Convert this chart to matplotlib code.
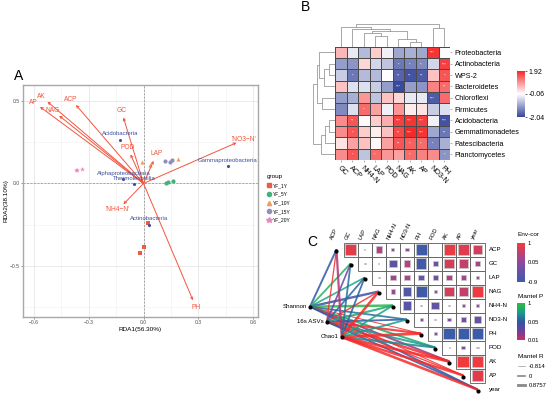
import numpy as np
import matplotlib.pyplot as plt
from matplotlib.colors import LinearSegmentedColormap, Normalize
from matplotlib.patches import Rectangle
from matplotlib.lines import Line2D
from matplotlib.cm import ScalarMappable

plt.rcParams['font.family'] = ['Liberation Sans', 'DejaVu Sans']

W, H = 550, 395
fig = plt.figure(figsize=(5.5, 3.95), dpi=100)


def px(x0, y0, x1, y1):
    return [x0 / W, 1 - y1 / H, (x1 - x0) / W, (y1 - y0) / H]


# ---------------- panel A data (RDA)
env_names = ["AP", "AK", "NAG", "ACP", "GC", "POD", "LAP", "'NO3\u2212N'", "'NH4\u2212N'", "PH"]
env_x = [-0.567, -0.526, -0.462, -0.37, -0.11, -0.071, 0.055, 0.509, -0.11, 0.271]
env_y = [0.465, 0.496, 0.411, 0.476, 0.40, 0.176, 0.137, 0.247, -0.126, -0.709]

taxa_names = ["Acidobacteria", "Gammaproteobacteria", "Alphaproteobacteria", "Thermoleophilia", "Actinobacteria"]
taxa_x = [-0.127, 0.463, -0.11, -0.05, 0.03]
taxa_y = [0.265, 0.105, 0.028, -0.003, -0.25]

groups = ["YF_1Y", "YF_5Y", "YF_10Y", "YF_15Y", "YF_20Y"]
site_x = [[0.024, 0.0, -0.017], [0.125, 0.132, 0.16], [-0.007, 0.188, 0.033],
          [0.119, 0.143, 0.154], [-0.366, -0.339, -0.372]]
site_y = [[-0.24, -0.387, -0.424], [0.0, 0.008, 0.016], [0.131, 0.149, 0.11],
          [0.135, 0.131, 0.14], [0.081, 0.089, 0.079]]
group_colors = ["#EE5B44", "#47AE7E", "#F39A5E", "#8F8FBE", "#E68AC0"]
group_markers = ["s", "o", "^", "o", "*"]

# ---------------- panel B data (heatmap)
hm_cols = ["GC", "ACP", "NH4-N", "LAP", "POD", "NAG", "AK", "AP", "NO3-N", "PH"]
hm_rows = ["Proteobacteria", "Actinobacteria", "WPS-2", "Bacteroidetes", "Chloroflexi",
           "Firmicutes", "Acidobacteria", "Gemmatimonadetes", "Patescibacteria", "Planctomycetes"]
hm_vals = np.array([
    [0.6, -0.3, -0.8, 0.4, -0.2, -1.0, -0.9, -1.0, 1.8, -0.1],
    [-1.1, -1.2, 0.3, -0.5, -0.7, -1.5, -1.4, -1.3, -0.5, 1.7],
    [-0.6, -1.5, -0.8, -0.8, -0.05, -1.7, -1.9, -1.8, 0.5, 1.5],
    [0.5, -0.4, -0.4, -0.6, -1.1, -2.0, -1.1, -1.2, 1.1, 1.3],
    [-1.1, -0.9, 0.9, -0.7, 0.5, 0.3, -0.3, -0.3, -1.8, 1.3],
    [-1.3, -0.4, 1.3, 0.8, -0.2, 0.9, 0.1, 0.2, -0.6, -0.4],
    [1.0, 1.5, 0.0, 0.4, 0.7, 1.7, 1.8, 1.7, -0.2, -1.9],
    [1.0, 1.5, 0.4, 0.1, 0.5, 1.6, 1.9, 1.8, -1.0, -1.5],
    [0.2, 0.8, 0.5, 0.0, 0.8, 1.5, 1.4, 1.3, -1.4, -0.9],
    [1.0, 1.5, -0.7, 1.3, 0.9, 0.8, 1.3, 1.1, 1.0, -1.2],
])
hm_stars = [
    ["", "", "", "", "", "", "", "", "***", ""],
    ["", "", "", "", "", "*", "*", "*", "", "***"],
    ["", "*", "", "", "", "**", "**", "**", "", "*"],
    ["", "", "", "", "", "***", "", "", "", "**"],
    ["", "", "", "", "", "", "", "", "***", ""],
    ["", "", "*", "", "", "", "", "", "", ""],
    ["", "**", "", "", "", "***", "***", "***", "", "***"],
    ["", "*", "", "", "", "**", "***", "***", "", "**"],
    ["", "", "", "", "", "**", "*", "*", "*", ""],
    ["", "*", "", "*", "", "", "*", "", "", "*"],
]
# dendrogram merges: (child a, child b, height); leaves 0..9, merges 10..
col_merges = [(6, 7, .2), (5, 10, .35), (3, 4, .5), (2, 12, .6), (13, 11, .72),
              (1, 14, .8), (0, 15, .88), (8, 9, .85), (16, 17, 1.0)]
row_merges = [(1, 2, .3), (10, 3, .5), (0, 11, .72), (4, 5, .6), (12, 13, .85),
              (6, 7, .3), (15, 8, .45), (16, 9, .65), (14, 17, 1.0)]

# ---------------- panel C data (mantel)
c_vars = ["ACP", "GC", "LAP", "NAG", "NH4-N", "NO3-N", "PH", "POD", "AK", "AP", "year"]
# row i holds correlations with c_vars[i+1:]
c_corr = [
    [0.85, 0.01, 0.35, 0.1, 0.1, -0.85, 0.0, 0.9, 0.8, 0.7],
    [0.05, 0.02, -0.5, 0.4, -0.8, -0.25, 0.7, 0.55, 0.3],
    [0.03, 0.25, 0.3, -0.3, -0.25, 0.3, 0.25, 0.12],
    [0.2, -0.6, -0.85, 0.1, 0.7, 0.55, 0.95],
    [-0.55, -0.05, -0.45, 0.05, 0.1, 0.1],
    [-0.1, 0.05, -0.15, -0.2, -0.4],
    [-0.1, -0.95, -0.9, -0.95],
    [0.02, -0.15, 0.05],
    [0.98, 0.95],
    [0.85],
]
div_names = ["Shannon", "16s ASVs", "Chao1"]
mantel_p = [
    [0.05, 0.8, 0.6, 0.045, 0.9, 0.2, 0.005, 0.7, 0.02, 0.008, 0.05],
    [0.005, 0.03, 0.15, 0.006, 0.7, 0.06, 0.003, 0.5, 0.004, 0.007, 0.05],
    [0.015, 0.2, 0.12, 0.002, 0.6, 0.5, 0.001, 0.4, 0.001, 0.003, 0.001],
]
mantel_r = [
    [0.2, 0.1, 0.0, 0.5, 0.6, 0.1, -0.5, 0.2, 0.3, -0.4, 0.1],
    [-0.3, 0.0, 0.1, -0.2, 0.3, 0.1, 0.4, 0.2, 0.5, -0.3, 0.2],
    [0.4, 0.1, 0.1, 0.7, 0.1, 0.1, 0.8, 0.3, 0.8, 0.6, 0.7],
]

# =========================== panel A
red = "#F2553F"
blue_t = "#3E4E9F"
ax = fig.add_axes(px(23, 85, 258, 317))
ax.set_xlim(-0.66, 0.627)
ax.set_ylim(-0.81, 0.597)
ax.set_xticks([-0.6, -0.3, 0.0, 0.3, 0.6])
ax.set_yticks([-0.5, 0.0, 0.5])
ax.set_xticks([-0.45, -0.15, 0.15, 0.45], minor=True)
ax.set_yticks([-0.75, -0.25, 0.25], minor=True)
ax.grid(True, which="major", color="#E6E6E6", lw=0.6)
ax.grid(True, which="minor", color="#F0F0F0", lw=0.4)
ax.set_axisbelow(True)
ax.tick_params(which="major", labelsize=3.6, length=1.5, width=0.4, pad=1, colors="#4D4D4D")
ax.tick_params(which="minor", length=0)
for s in ax.spines.values():
    s.set_color("#A8A8A8")
    s.set_linewidth(1.0)
ax.axhline(0, color="#8C8C8C", lw=0.5, ls=(0, (3, 2)), zorder=1)
ax.axvline(0, color="#8C8C8C", lw=0.5, ls=(0, (3, 2)), zorder=1)
ax.set_xlabel("RDA1(56.30%)", fontsize=4.6, labelpad=1)
ax.set_ylabel("RDA2(38.10%)", fontsize=4.6, labelpad=1)

for g, c, m, xs, ys in zip(groups, group_colors, group_markers, site_x, site_y):
    ax.scatter(xs, ys, s=9 if m != "*" else 14, marker=m, color=c, lw=0, zorder=3)

for name, x, y in zip(env_names, env_x, env_y):
    ax.annotate("", xy=(x, y), xytext=(0, 0),
                arrowprops=dict(arrowstyle="->", color=red, lw=0.7,
                                mutation_scale=4, shrinkA=0, shrinkB=0), zorder=4)
    L = np.hypot(x, y)
    ax.text(x + 0.045 * x / L, y + 0.045 * y / L, name, color=red,
            fontsize=4.8, ha="center", va="center", zorder=5)

for name, x, y in zip(taxa_names, taxa_x, taxa_y):
    ax.scatter([x], [y], s=1.5, color=blue_t, zorder=4)
    ax.text(x, y + 0.035, name, color=blue_t, fontsize=4.3, ha="center",
            va="center", zorder=5)

handles = [Line2D([], [], marker=m, color=c, ls="", markersize=3 if m != "*" else 4)
           for c, m in zip(group_colors, group_markers)]
leg = fig.legend(handles, groups, loc="upper left", bbox_to_anchor=(264 / W, 1 - 172 / H),
                 frameon=False, fontsize=3.5, title="group", title_fontsize=4.6,
                 handlelength=1.0, handletextpad=0.4, labelspacing=0.75, borderpad=0)
leg._legend_box.align = "left"
fig.text(19 / W, 1 - 76 / H, "A", fontsize=10, ha="center", va="center")

# =========================== panel B
cm_b = LinearSegmentedColormap.from_list("b", ["#36469A", "#FFFFFF", "#F42828"])
norm_b = Normalize(-2.04, 1.92)
axh = fig.add_axes(px(335, 46.7, 450, 160))
axh.pcolormesh(np.arange(11), np.arange(11), hm_vals, cmap=cm_b, norm=norm_b,
               edgecolors="#4A4A4A", linewidth=0.5)
axh.set_xlim(0, 10)
axh.set_ylim(10, 0)
for i in range(10):
    for j in range(10):
        if hm_stars[i][j]:
            axh.text(j + 0.5, i + 0.55, hm_stars[i][j], color="white", fontsize=3,
                     ha="center", va="center")
axh.set_xticks(np.arange(10) + 0.5)
axh.set_yticks(np.arange(10) + 0.5)
axh.set_xticklabels(hm_cols, rotation=-45, ha="left", va="top", rotation_mode="anchor",
                    fontsize=5.2)
axh.set_yticklabels(hm_rows, fontsize=5.2)
axh.yaxis.tick_right()
axh.tick_params(length=1.5, width=0.4, pad=2, color="#777777")
for s in axh.spines.values():
    s.set_visible(False)


def dendro(axd, merges, n, orient):
    pos = {i: (i + 0.5, 0.0) for i in range(n)}
    for k, (a, b, h) in enumerate(merges):
        xa, ha = pos[a]
        xb, hb = pos[b]
        if orient == "top":
            axd.plot([xa, xa, xb, xb], [ha, h, h, hb], color="#9A9A9A", lw=0.6)
        else:
            axd.plot([ha, h, h, hb], [xa, xa, xb, xb], color="#9A9A9A", lw=0.6)
        pos[n + k] = ((xa + xb) / 2, h)
    axd.axis("off")


axt = fig.add_axes(px(335, 24, 450, 46.7))
dendro(axt, col_merges, 10, "top")
axt.set_xlim(0, 10)
axt.set_ylim(0, 1.02)
axl = fig.add_axes(px(313, 46.7, 335, 160))
dendro(axl, row_merges, 10, "left")
axl.set_xlim(1.02, 0)
axl.set_ylim(10, 0)

caxb = fig.add_axes(px(517, 71, 525, 117))
cb = fig.colorbar(ScalarMappable(norm=norm_b, cmap=cm_b), cax=caxb)
cb.set_ticks([1.92, -0.06, -2.04])
cb.set_ticklabels(["1.92", "-0.06", "-2.04"])
cb.ax.tick_params(labelsize=5, length=1.5, width=0.4, pad=1)
cb.outline.set_visible(False)
fig.text(305 / W, 1 - 7 / H, "B", fontsize=10, ha="center", va="center")

# =========================== panel C
CX0, CY0, CW, CH = 336.5, 249.5, 14.1, 14.0
axc = fig.add_axes(px(280, 226, 500, 395))
axc.set_xlim((280 - CX0) / CW, (500 - CX0) / CW)
axc.set_ylim((395 - CY0) / CH, (226 - CY0) / CH)
axc.axis("off")

cm_c = LinearSegmentedColormap.from_list("c", [(0, "#3B5CA8"), (0.5, "#8C49A3"), (1, "#F23A3A")])
norm_c = Normalize(-0.9, 1)
n = len(c_vars)
for i in range(n - 1):
    for k, r in enumerate(c_corr[i]):
        j = i + 1 + k
        axc.add_patch(Rectangle((j - 0.5, i - 0.5), 1, 1, fc="white", ec="#5A5A5A", lw=0.6))
        sz = 0.86 * abs(r) ** 0.6
        axc.add_patch(Rectangle((j - sz / 2, i - sz / 2), sz, sz, fc=cm_c(norm_c(r)),
                                ec="#C8C8C8", lw=0.5, zorder=3))
for j, v in enumerate(c_vars):
    axc.text(j - 0.15, -0.65, v, rotation=65, ha="left", va="bottom",
             rotation_mode="anchor", fontsize=4.2)
    axc.text(n - 0.2, j, v, ha="left", va="center", fontsize=4.4)

cm_p = LinearSegmentedColormap.from_list("p", [(0, "#C9305E"), (0.25, "#6C3FA0"), (0.5, "#2F58A5"),
                                               (0.75, "#179E8C"), (1, "#2EBE3C")])


def p_pos(p):
    if p < 0.01:
        return None
    if p < 0.05:
        return 0.5 * (p - 0.01) / 0.04
    return 0.5 + 0.5 * (p - 0.05) / 0.95


def r_lw(r):
    return 0.45 + (r + 0.814) / (0.8757 + 0.814) * 1.6


node_xy = [((310 - CX0) / CW, (306.7 - CY0) / CH),
           ((326.7 - CX0) / CW, (321.7 - CY0) / CH),
           ((341.7 - CX0) / CW, (337 - CY0) / CH)]
for k, (nx, ny) in enumerate(node_xy):
    for i in range(n):
        pp = p_pos(mantel_p[k][i])
        col = "#F52B2B" if pp is None else cm_p(pp)
        axc.plot([nx, i], [ny, i], color=col, lw=r_lw(mantel_r[k][i]), alpha=0.85,
                 solid_capstyle="butt", zorder=4)
for i in range(n):
    axc.scatter([i], [i + 0.08], s=4, color="black", zorder=6)
for name, (nx, ny) in zip(div_names, node_xy):
    axc.scatter([nx], [ny], s=4, color="black", zorder=6)
    axc.text(nx - 0.2, ny, name, ha="right", va="center", fontsize=4.4, zorder=6)
fig.text(312 / W, 1 - 242 / H, "C", fontsize=10, ha="center", va="center")

# legends of C
caxc = fig.add_axes(px(517, 243, 525, 282))
cb2 = fig.colorbar(ScalarMappable(norm=norm_c, cmap=cm_c), cax=caxc)
cb2.set_ticks([1, 0.05, -0.9])
cb2.set_ticklabels(["1", "0.05", "-0.9"])
cb2.ax.tick_params(labelsize=4.2, length=0, pad=2)
cb2.outline.set_visible(False)
fig.text(518 / W, 1 - 235 / H, "Env-cor", fontsize=4.6, ha="left", va="center")

caxp = fig.add_axes(px(517, 303, 525, 340))
cb3 = fig.colorbar(ScalarMappable(norm=Normalize(0, 1), cmap=cm_p), cax=caxp)
cb3.set_ticks([1, 0.5, 0])
cb3.set_ticklabels(["1", "0.05", "0.01"])
cb3.ax.tick_params(labelsize=4.2, length=0, pad=2)
cb3.outline.set_visible(False)
fig.text(518 / W, 1 - 297 / H, "Mantel P", fontsize=4.6, ha="left", va="center")

r_handles = [Line2D([], [], color="#8A8A8A", lw=r_lw(v)) for v in [-0.814, 0, 0.8757]]
leg2 = fig.legend(r_handles, ["-0.814", "0", "0.8757"], loc="upper left",
                  bbox_to_anchor=(514 / W, 1 - 350 / H), frameon=False, fontsize=4.2,
                  title="Mantel R", title_fontsize=4.6, handlelength=1.2,
                  handletextpad=0.6, labelspacing=0.8, borderpad=0.2)
leg2._legend_box.align = "left"

fig.savefig("out.png", dpi=100)
